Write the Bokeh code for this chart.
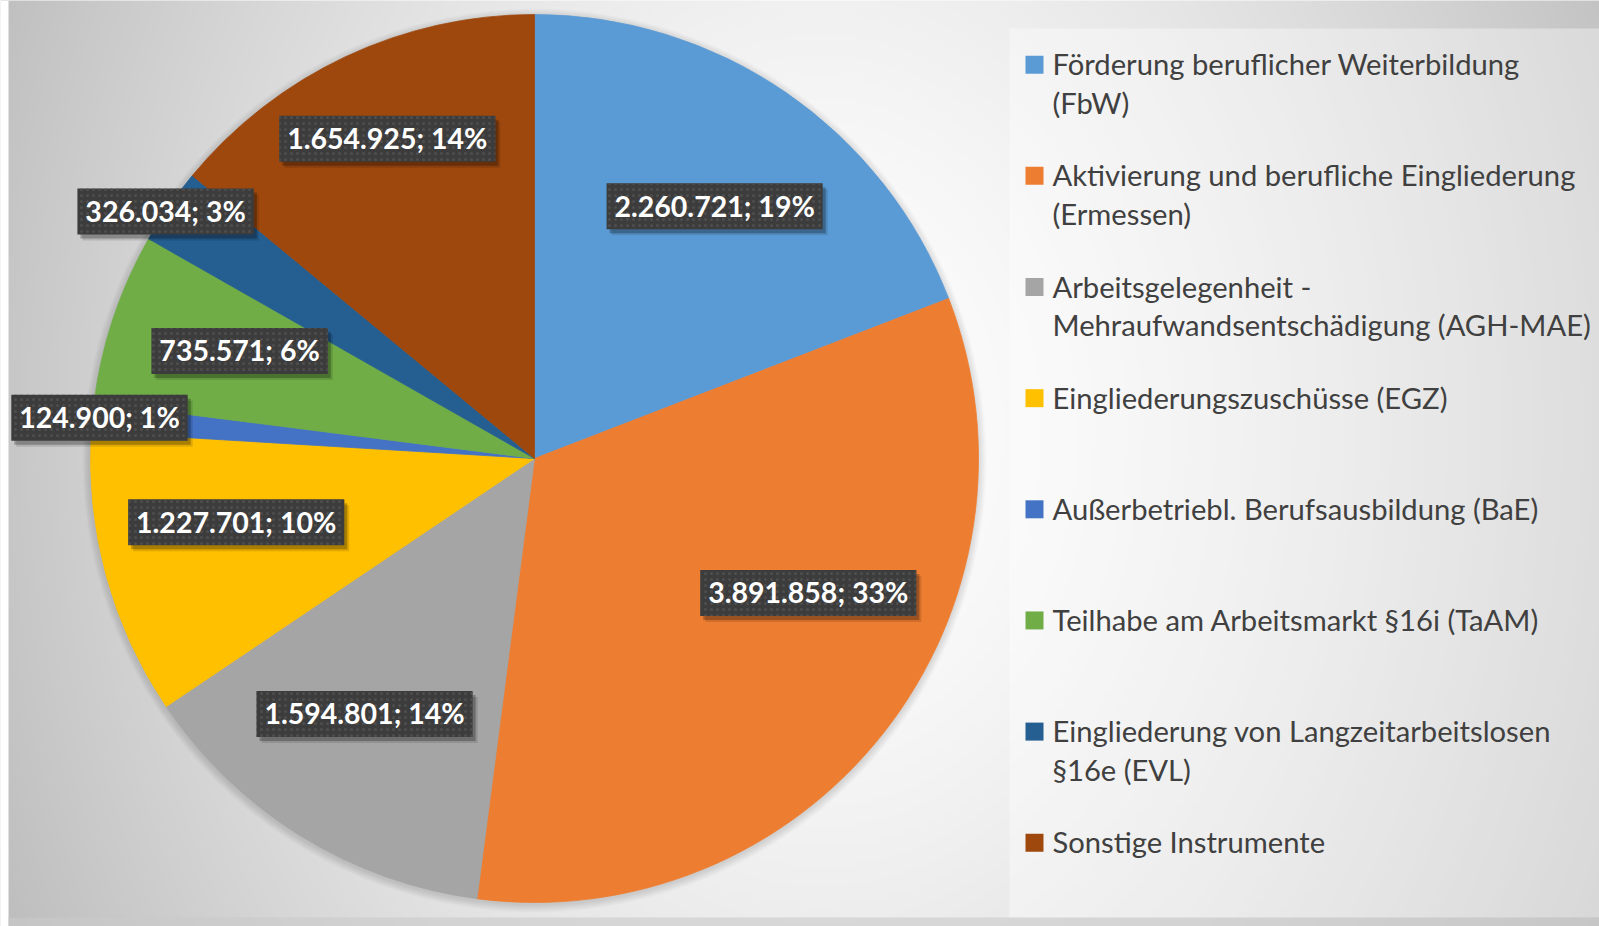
import numpy as np
from bokeh.plotting import figure
from bokeh.models import Range1d, ColumnDataSource
from bokeh.embed import file_html
from bokeh.resources import INLINE
from bokeh.core.properties import value

# ---------------- data ----------------
categories = [
    "Förderung beruflicher Weiterbildung\n(FbW)",
    "Aktivierung und berufliche Eingliederung\n(Ermessen)",
    "Arbeitsgelegenheit -\nMehraufwandsentschädigung (AGH-MAE)",
    "Eingliederungszuschüsse (EGZ)",
    "Außerbetriebl. Berufsausbildung (BaE)",
    "Teilhabe am Arbeitsmarkt §16i (TaAM)",
    "Eingliederung von Langzeitarbeitslosen\n§16e (EVL)",
    "Sonstige Instrumente",
]
values = [2260721, 3891858, 1594801, 1227701, 124900, 735571, 326034, 1654925]
percent_labels = [19, 33, 14, 10, 1, 6, 3, 14]
colors = ["#5B9BD5", "#ED7D31", "#A5A5A5", "#FFC000",
          "#4472C4", "#70AD47", "#255E91", "#9E480E"]

# ---------------- layout ----------------
W, H = 1599, 926
OX, OY = 0, 0


def X(px):
    return px - OX


def Y(py):
    return (H + OY) - py


CX, CY, R = 534, 458, 444
label_rfrac = [0.698, 0.687, 0.691, 0.687, 0.984, 0.707, 1.0, 0.793]
label_dang = [1.1, -12.0, 1.9, 3.2, 0.0, 1.6, -0.8, 0.5]

p = figure(width=W, height=H, x_range=Range1d(0, W), y_range=Range1d(0, H),
           output_backend="svg", toolbar_location=None,
           x_axis_type=None, y_axis_type=None, min_border=0)
p.outline_line_color = None
p.background_fill_color = "white"
p.border_fill_color = "white"

# background gradient
s = 4
nx, ny = int(np.ceil(W / s)), int(np.ceil(H / s))
rx = (np.arange(nx) + 0.5) * s + OX
ry = (H + OY) - (np.arange(ny) + 0.5) * s
RX, RY = np.meshgrid(rx, ry)
rr = np.sqrt(((RX - 820) / 850) ** 2 + ((RY - 430) / 1100) ** 2)
g = np.clip(255 - 60 * rr ** 1.5, 0, 255).astype(np.uint8)
img = np.empty((ny, nx), dtype=np.uint32)
view = img.view(dtype=np.uint8).reshape((ny, nx, 4))
view[..., 0] = g
view[..., 1] = g
view[..., 2] = g
view[..., 3] = 255
p.image_rgba(image=[img], x=0, y=0, dw=nx * s, dh=ny * s)

# white strip on the left edge
p.quad(left=X(0), right=X(8), top=Y(0), bottom=Y(926),
       fill_color="white", line_color=None)
# bottom band
p.quad(left=X(8), right=X(1599), top=Y(917), bottom=Y(926),
       fill_color="#c9c9c9", fill_alpha=0.6, line_color=None)

# legend panel
p.quad(left=X(1009), right=X(1599), top=Y(28), bottom=Y(917),
       fill_color="white", fill_alpha=0.37, line_color=None)

# pie shadow
for k in range(1, 9):
    p.circle(x=X(CX), y=Y(CY + 2), radius=R + k, fill_color="black",
             fill_alpha=0.015, line_color=None)

# wedges
vals = np.array(values, dtype=float)
fr = vals / vals.sum()
cum_end = np.cumsum(fr)
cum_start = cum_end - fr
src = ColumnDataSource(dict(
    start=np.pi / 2 - 2 * np.pi * cum_end,
    end=np.pi / 2 - 2 * np.pi * cum_start,
    color=colors,
))
p.wedge(x=X(CX), y=Y(CY), radius=R, start_angle="start", end_angle="end",
        fill_color="color", line_color="color", line_width=0.8, source=src)

# data labels
def fmt(v):
    return f"{v:,}".replace(",", ".")

texts = [f"{fmt(v)}; {pc}%" for v, pc in zip(values, percent_labels)]
cw = {".": 8.3, ";": 8.6, " ": 7.0, "%": 22.6}

def tw(t):
    return sum(cw.get(c, 15.7) for c in t)

mid = 2 * np.pi * (cum_start + fr / 2) + np.radians(label_dang)
lx = CX + R * np.array(label_rfrac) * np.sin(mid)
ly = CY - R * np.array(label_rfrac) * np.cos(mid)
bw = [tw(t) + 20 for t in texts]
bh = 46

lab = ColumnDataSource(dict(
    x=[X(v) for v in lx], y=[Y(v) for v in ly],
    xs1=[X(v) + 3 for v in lx], ys1=[Y(v) - 4 for v in ly],
    xs2=[X(v) + 5 for v in lx], ys2=[Y(v) - 6 for v in ly],
    ty=[Y(v - 0.5) for v in ly],
    w=bw, t=texts,
))
p.rect(x="xs2", y="ys2", width="w", height=bh, fill_color="black",
       fill_alpha=0.12, line_color=None, source=lab)
p.rect(x="xs1", y="ys1", width="w", height=bh, fill_color="black",
       fill_alpha=0.25, line_color=None, source=lab)
p.rect(x="x", y="y", width="w", height=bh, fill_color="#3c3c3c",
       line_color=None, hatch_pattern="dot", hatch_color="#4e4e4e",
       hatch_scale=6, hatch_weight=1.0, source=lab)
p.text(x="x", y="ty", text="t", text_color="white",
       text_font=value("Lato"), text_font_style="bold",
       text_font_size="28.5px", text_align="center",
       text_baseline="alphabetic", source=lab)

# legend
LG_Y0, LG_DY, LG_LINE = 64.2, 111.15, 38.8
mx, my, mc = [], [], []
tx, ty, tt = [], [], []
for i, (cat, col) in enumerate(zip(categories, colors)):
    yc = LG_Y0 + LG_DY * i
    mx.append(X(1034))
    my.append(Y(yc))
    mc.append(col)
    for k, line in enumerate(cat.split("\n")):
        tx.append(X(1052))
        ty.append(Y(yc + k * LG_LINE - 1.0))
        tt.append(line)

p.rect(x=mx, y=my, width=18, height=18, fill_color=mc, line_color=None)
p.text(x=tx, y=ty, text=tt, text_color="#404040",
       text_font=value("Lato"), text_font_size="29.2px",
       text_align="left", text_baseline="alphabetic")

open("out.html", "w").write(file_html(p, INLINE, title="Pie chart"))
